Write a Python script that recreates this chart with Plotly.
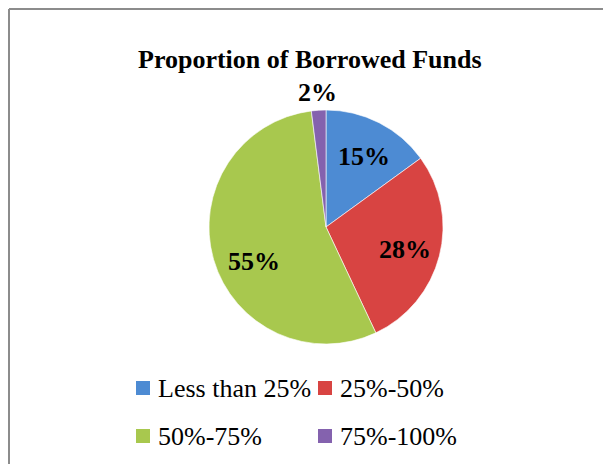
import math
import plotly.graph_objects as go

# Share of borrowed funds in total financing
categories = ["Less than 25%", "25%-50%", "50%-75%", "75%-100%"]
shares = [15, 28, 55, 2]
colors = ["#4D8BD3", "#D84442", "#A8C84E", "#8462AE"]

# Radial placement of each value label (fraction of radius) and small pixel nudges
label_radius = [0.68, 0.70, 0.68, 1.15]
label_nudge = [(2, 0), (0, 2), (4, 12), (0, 0)]

W, H = 603, 464
SERIF = "Liberation Serif, Times New Roman, serif"

# Pie geometry in pixels (centre measured from top-left)
PCX, PCY, R = 326, 227, 117

fig = go.Figure()
fig.add_trace(go.Pie(
    labels=categories,
    values=shares,
    sort=False,
    direction="clockwise",
    rotation=0,
    marker=dict(colors=colors, line=dict(color="rgba(255,255,255,0.6)", width=1)),
    textinfo="none",
    showlegend=False,
    hoverinfo="label+percent",
    domain=dict(x=[(PCX - R) / W, (PCX + R) / W],
                y=[(H - PCY - R) / H, (H - PCY + R) / H]),
))

# Value labels at each slice's mid-angle
total = sum(shares)
cum = 0
for v, rf, (nx, ny) in zip(shares, label_radius, label_nudge):
    mid = (cum + v / 2) / total * 2 * math.pi
    cum += v
    px = PCX + rf * R * math.sin(mid) + nx
    py = PCY - rf * R * math.cos(mid) + ny
    fig.add_annotation(text=f"<b>{v}%</b>", x=px / W, y=1 - py / H,
                       xref="paper", yref="paper", showarrow=False,
                       xanchor="center", yanchor="middle",
                       font=dict(family=SERIF, size=26, color="black"))

# Chart title
fig.add_annotation(text="<b>Proportion of Borrowed Funds</b>", x=310 / W, y=1 - 60 / H,
                   xref="paper", yref="paper", showarrow=False,
                   font=dict(family=SERIF, size=26, color="black"),
                   xanchor="center", yanchor="middle")

# Legend: two rows of two entries
col_x = [136, 318]
row_y = [388, 436]
for i, (name, col) in enumerate(zip(categories, colors)):
    cx = col_x[i % 2]
    cy = row_y[i // 2]
    fig.add_shape(type="rect", xref="paper", yref="paper",
                  x0=cx / W, x1=(cx + 14) / W,
                  y0=1 - (cy + 7) / H, y1=1 - (cy - 7) / H,
                  fillcolor=col, line=dict(color=col, width=0))
    fig.add_annotation(text=name, x=(cx + 20) / W, y=1 - cy / H,
                       xref="paper", yref="paper", showarrow=False,
                       xanchor="left", yanchor="middle",
                       font=dict(family=SERIF, size=26, color="black"))

# Chart frame (top and left edges visible)
frame = dict(color="#8C8C8C", width=2)
fig.add_shape(type="line", xref="paper", yref="paper",
              x0=9 / W, x1=1, y0=1 - 9 / H, y1=1 - 9 / H, line=frame)
fig.add_shape(type="line", xref="paper", yref="paper",
              x0=9 / W, x1=9 / W, y0=0, y1=1 - 9 / H, line=frame)

fig.update_layout(
    width=W, height=H,
    margin=dict(l=0, r=0, t=0, b=0),
    paper_bgcolor="white",
    plot_bgcolor="white",
)

fig.write_html("out.html")
